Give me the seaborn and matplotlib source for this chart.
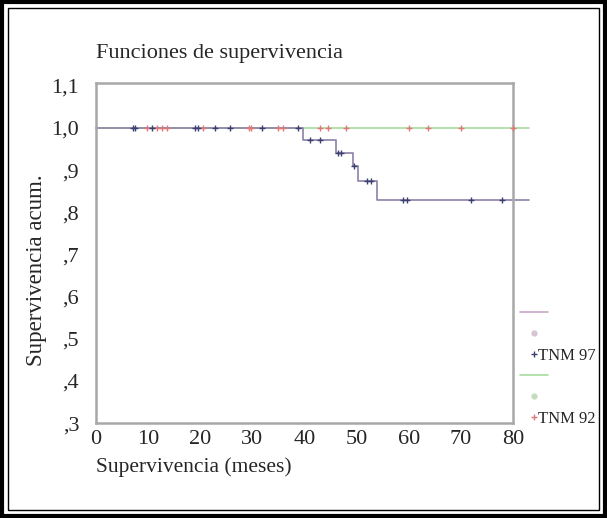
import numpy as np
import pandas as pd
import seaborn as sns
import matplotlib.pyplot as plt
from matplotlib.lines import Line2D
from matplotlib.patches import Rectangle

# step curve, TNM 97
t97 = [0, 39.7, 46, 49.3, 50.3, 54, 83]
s97 = [1.0, 0.972, 0.94, 0.91, 0.875, 0.83, 0.83]
# censored cases, TNM 97
c97_t = [7.1, 7.5, 10.8, 19, 19.6, 22.9, 25.8, 31.9, 38.8,
         41, 43, 46.5, 47, 49.6, 52.1, 52.7, 59, 59.6, 72, 78]
c97_s = [1.0, 1.0, 1.0, 1.0, 1.0, 1.0, 1.0, 1.0, 1.0,
         0.972, 0.972, 0.94, 0.94, 0.91, 0.875, 0.875, 0.83, 0.83, 0.83, 0.83]
# TNM 92, no events
t92 = [0, 83]
s92 = [1.0, 1.0]
c92_t = [9.8, 11.7, 12.7, 13.7, 20.6, 29.4, 29.8, 35, 35.8, 43, 44.6, 47.9,
         60, 63.8, 70, 80]
c92_s = [1.0] * len(c92_t)

xticks = [0, 10, 20, 30, 40, 50, 60, 70, 80]
yticks = [0.3, 0.4, 0.5, 0.6, 0.7, 0.8, 0.9, 1.0, 1.1]
ylabels = [',3', ',4', ',5', ',6', ',7', ',8', ',9', '1,0', '1,1']

sns.set_style("white")
plt.rcParams['font.family'] = ['Liberation Serif', 'DejaVu Serif']

col97 = '#8e80a8'
mk97 = '#3c4070'
col92 = '#a6dc9c'
mk92 = '#e07878'

fig = plt.figure(figsize=(6.07, 5.18), dpi=100)
ax = fig.add_axes([0.158, 0.183, 0.687, 0.657])

df92 = pd.DataFrame({'t': t92, 's': s92})
df97 = pd.DataFrame({'t': t97, 's': s97})
sns.lineplot(data=df92, x='t', y='s', ax=ax, color=col92, lw=1.2,
             estimator=None, sort=False, drawstyle='steps-post', clip_on=False)
sns.lineplot(data=df97, x='t', y='s', ax=ax, color=col97, lw=1.2,
             estimator=None, sort=False, drawstyle='steps-post', clip_on=False)
sns.scatterplot(x=c92_t, y=c92_s, ax=ax, marker='+', color=mk92, s=18,
                linewidth=1.0, clip_on=False, zorder=5)
sns.scatterplot(x=c97_t, y=c97_s, ax=ax, marker='+', color=mk97, s=18,
                linewidth=1.0, clip_on=False, zorder=5)

ax.set_xlim(0, 80)
ax.set_ylim(0.3, 1.107)
ax.set_xticks(xticks)
ax.set_yticks(yticks)
ax.set_yticklabels(ylabels)
ax.tick_params(labelsize=16, length=2, width=1.5, color='#404040')
ax.tick_params(axis='y', pad=10)
ax.tick_params(axis='x', pad=3)
for sp in ax.spines.values():
    sp.set_color('#a8a8a8')
    sp.set_linewidth(1.8)

ax.set_xlabel('Supervivencia (meses)', fontsize=15.5, loc='left', labelpad=6)
ax.set_ylabel('Supervivencia acum.', fontsize=16.5)
ax.yaxis.set_label_coords(-0.118, 0.45)
fig.text(0.158, 0.888, 'Funciones de supervivencia', fontsize=16)

handles = [
    Line2D([], [], color='#c8a8c8', lw=1.2),
    Line2D([], [], ls='none', marker='o', ms=3.5, color='#d8c4d4'),
    Line2D([], [], ls='none', marker='+', ms=4, mew=1, color=mk97),
    Line2D([], [], color=col92, lw=1.2),
    Line2D([], [], ls='none', marker='o', ms=3.5, color='#c4dcbc'),
    Line2D([], [], ls='none', marker='+', ms=4, mew=1, color=mk92),
]
labels = ['', '', 'TNM 97', '', '', 'TNM 92']
leg = ax.legend(handles, labels, loc='upper left', bbox_to_anchor=(1.0, 0.365),
                frameon=False, fontsize=12, handlelength=1.7, handletextpad=-0.6,
                labelspacing=0.3, borderaxespad=0)

# double border round the figure
fig.patches.append(Rectangle((0.003, 0.003), 0.994, 0.994, transform=fig.transFigure,
                             fill=False, ec='black', lw=3))
fig.patches.append(Rectangle((0.013, 0.015), 0.974, 0.97, transform=fig.transFigure,
                             fill=False, ec='black', lw=1))

fig.savefig('out.png', dpi=100)
